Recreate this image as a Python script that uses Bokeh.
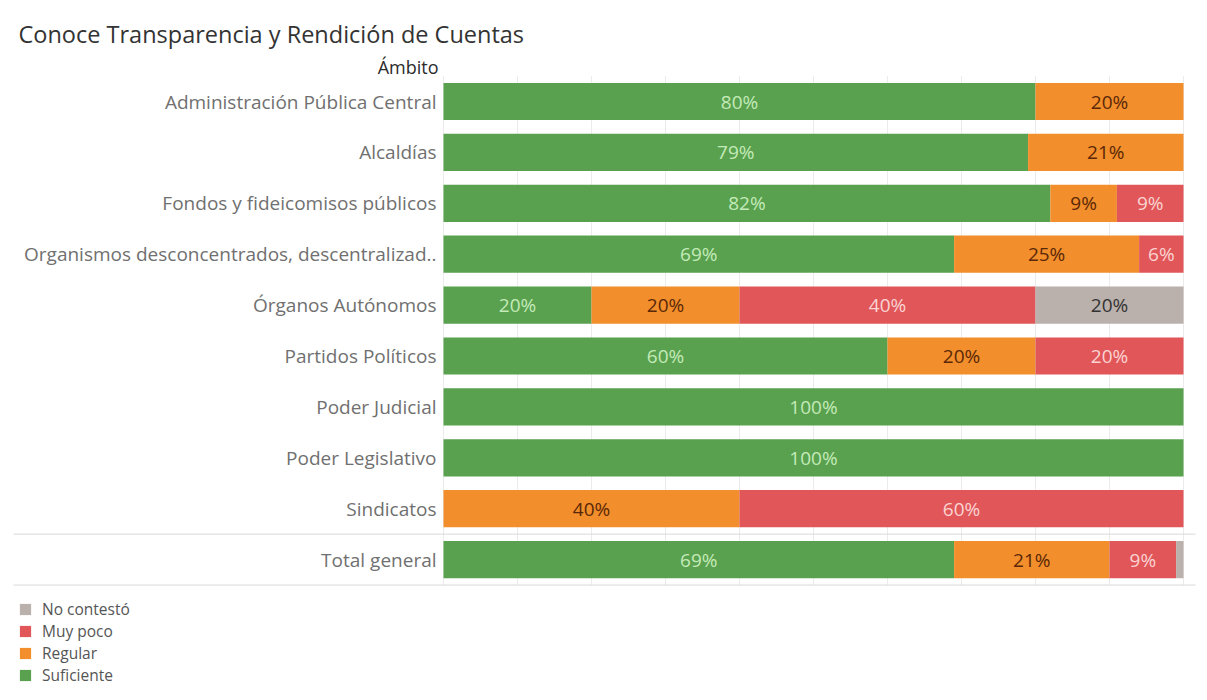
from bokeh.plotting import figure
from bokeh.models import ColumnDataSource, Range1d, Label, Legend, LegendItem
from bokeh.core.properties import value
from bokeh.embed import file_html
from bokeh.resources import INLINE

title = "Conoce Transparencia y Rendición de Cuentas"
header = "Ámbito"
categories = [
    "Administración Pública Central",
    "Alcaldías",
    "Fondos y fideicomisos públicos",
    "Organismos desconcentrados, descentralizad..",
    "Órganos Autónomos",
    "Partidos Políticos",
    "Poder Judicial",
    "Poder Legislativo",
    "Sindicatos",
    "Total general",
]
series = ["Suficiente", "Regular", "Muy poco", "No contestó"]
suficiente = [80, 79, 82, 69, 20, 60, 100, 100, 0, 69]
regular = [20, 21, 9, 25, 20, 20, 0, 0, 40, 21]
muy_poco = [0, 0, 9, 6, 40, 20, 0, 0, 60, 9]
no_contesto = [0, 0, 0, 0, 20, 0, 0, 0, 0, 1]

colors = ["#59a14f", "#f28e2b", "#e15759", "#bab0ac"]
text_colors = ["#c4eab8", "#5a2808", "#fbd3d3", "#333333"]
FONT = "Open Sans"

W, H = 1199, 692
x0_px = 443.0        # pixel of 0 %
px_per_pct = 7.4
row0_px = 101.0
row_step = 50.9

p = figure(width=W, height=H, output_backend="svg", toolbar_location=None,
           min_border=0, min_border_left=0, min_border_right=0,
           min_border_top=0, min_border_bottom=0,
           x_range=Range1d(-x0_px / px_per_pct, (W - x0_px) / px_per_pct),
           y_range=Range1d(-(H - row0_px) / row_step, row0_px / row_step))
p.axis.visible = False
p.grid.visible = False
p.outline_line_color = None
p.background_fill_color = "white"
p.border_fill_color = "white"

ypos = [-i for i in range(len(categories))]
n = len(categories)

# vertical gridlines every 10 %
gx = list(range(0, 101, 10))
p.segment(x0=gx, x1=gx, y0=[0.5] * len(gx), y1=[-(n - 0.5)] * len(gx),
          line_color="#ebebeb", line_width=1)

# separators (before total and at bottom)
xs0 = p.x_range.start + 13 / px_per_pct
xs1 = p.x_range.start + 1195 / px_per_pct
p.segment(x0=[xs0, xs0], x1=[xs1, xs1], y0=[-(n - 1.5), -(n - 0.5)],
          y1=[-(n - 1.5), -(n - 0.5)], line_color="#d9d9d9", line_width=1)

src = ColumnDataSource(dict(y=ypos, Suficiente=suficiente, Regular=regular,
                            **{"Muy poco": muy_poco, "No contestó": no_contesto}))
rends = p.hbar_stack(series, y="y", height=0.73, color=colors, source=src,
                     line_color=None)

# percent labels
vals = [suficiente, regular, muy_poco, no_contesto]
lx, ly, lt, lc = [], [], [], []
for i in range(n):
    cum = 0
    for s in range(4):
        v = vals[s][i]
        if v >= 3:
            lx.append(cum + v / 2)
            ly.append(ypos[i])
            lt.append(f"{v}%")
            lc.append(text_colors[s])
        cum += v
p.text(x=lx, y=ly, text=lt, text_color=lc, text_align="center",
       text_baseline="middle", text_font=value(FONT), text_font_size="19px")

# category labels
p.text(x=[0] * n, y=ypos, text=categories, x_offset=-7, text_align="right",
       text_baseline="middle", text_color="#707070", text_font=value(FONT),
       text_font_size="19px")

p.add_layout(Label(x=0, y=(row0_px - 66) / row_step, x_offset=-5, text=header,
                   text_align="right", text_baseline="middle", text_color="#2b2b2b",
                   text_font=FONT, text_font_size="18px"))
p.add_layout(Label(x=18, y=H - 33, x_units="screen", y_units="screen", text=title,
                   text_align="left", text_baseline="middle", text_color="#333333",
                   text_font=FONT, text_font_size="23.5px"))

items = [LegendItem(label=series[s], renderers=[rends[s]]) for s in range(3, -1, -1)]
legend = Legend(items=items, location=(18, 6), orientation="vertical",
                glyph_width=14, glyph_height=14, label_height=20, spacing=0,
                padding=0, margin=0, label_standoff=10,
                label_text_font=FONT, label_text_font_size="15.5px",
                label_text_color="#555555", background_fill_alpha=0,
                border_line_color=None)
p.add_layout(legend)

open("out.html", "w").write(file_html(p, INLINE))
